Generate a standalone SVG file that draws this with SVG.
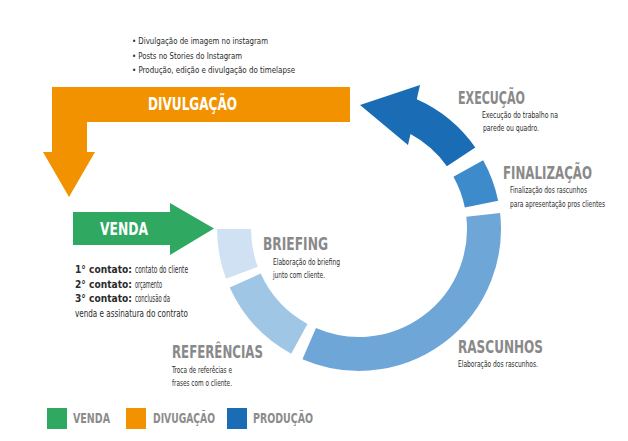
<svg xmlns="http://www.w3.org/2000/svg" width="628" height="441" viewBox="0 0 628 441">
<style>
text{font-family:"Liberation Sans Narrow","DejaVu Sans Condensed","Liberation Sans",sans-serif;}
.ttl{font-size:18px;font-weight:bold;fill:#898989;}
.wt{font-size:18px;font-weight:bold;fill:#ffffff;}
.sm{font-size:9.5px;fill:#2b2b2b;}
.ct{font-size:10.5px;fill:#2b2b2b;}
.b{font-weight:bold;}
.lg{font-size:14.5px;font-weight:bold;fill:#8c8c8c;}
.ring{fill:none;stroke-width:34;}
</style>
<rect width="628" height="441" fill="#ffffff"/>

<g id="connectors">
  <path id="arrow-divulgacao" d="M350,87 L350,122 L87,122 L87,152 L95,152 L69,197 L43,152 L52,152 L52,87 Z" fill="#f39200"/>
  <path id="arrow-venda" d="M73,212 L170,212 L170,203 L214,228.5 L170,255 L170,245 L73,245 Z" fill="#2fa862"/>
</g>

<g id="node-divulgacao">
  <text class="wt" x="148" y="110" textLength="89" lengthAdjust="spacingAndGlyphs">DIVULGAÇÃO</text>
  <text class="sm" x="132" y="44" textLength="136" lengthAdjust="spacingAndGlyphs">• Divulgação de imagem no instagram</text>
  <text class="sm" x="132" y="58.5" textLength="110" lengthAdjust="spacingAndGlyphs">• Posts no Stories do Instagram</text>
  <text class="sm" x="132" y="73" textLength="163" lengthAdjust="spacingAndGlyphs">• Produção, edição e divulgação do timelapse</text>
</g>

<g id="node-venda">
  <text class="wt" x="100" y="235" textLength="48" lengthAdjust="spacingAndGlyphs">VENDA</text>
  <text class="ct b" x="75" y="273" textLength="57" lengthAdjust="spacingAndGlyphs">1° contato:</text>
  <text class="ct" x="135" y="273" textLength="53" lengthAdjust="spacingAndGlyphs">contato do cliente</text>
  <text class="ct b" x="75" y="287.5" textLength="57" lengthAdjust="spacingAndGlyphs">2° contato:</text>
  <text class="ct" x="135" y="287.5" textLength="27" lengthAdjust="spacingAndGlyphs">orçamento</text>
  <text class="ct b" x="75" y="302" textLength="57" lengthAdjust="spacingAndGlyphs">3° contato:</text>
  <text class="ct" x="135" y="302" textLength="35" lengthAdjust="spacingAndGlyphs">conclusão da</text>
  <text class="ct" x="75" y="316.5" textLength="113" lengthAdjust="spacingAndGlyphs">venda e assinatura do contrato</text>
</g>

<g id="node-briefing">
  <path class="ring" stroke="#cfe1f2" d="M241.9,272.8 A125,125 0 0 1 234,229"/>
  <text class="ttl" x="263" y="250" textLength="65" lengthAdjust="spacingAndGlyphs">BRIEFING</text>
  <text class="sm" x="273" y="265" textLength="67" lengthAdjust="spacingAndGlyphs">Elaboração do briefing</text>
  <text class="sm" x="273" y="278" textLength="52" lengthAdjust="spacingAndGlyphs">junto com cliente.</text>
</g>

<g id="node-referencias">
  <path class="ring" stroke="#a0c6e6" d="M299.35,338.85 A125,125 0 0 1 245.2,280.6"/>
  <text class="ttl" x="172" y="358" textLength="91" lengthAdjust="spacingAndGlyphs">REFERÊNCIAS</text>
  <text class="sm" x="172" y="373" textLength="60" lengthAdjust="spacingAndGlyphs">Troca de referêcias e</text>
  <text class="sm" x="172" y="386" textLength="60" lengthAdjust="spacingAndGlyphs">frases com o cliente.</text>
</g>

<g id="node-rascunhos">
  <path class="ring" stroke="#6ea7d7" d="M483.2,214.85 A125,125 0 0 1 309.2,343.6"/>
  <text class="ttl" x="458" y="353" textLength="85" lengthAdjust="spacingAndGlyphs">RASCUNHOS</text>
  <text class="sm" x="458" y="367" textLength="80" lengthAdjust="spacingAndGlyphs">Elaboração dos rascunhos.</text>
</g>

<g id="node-finalizacao">
  <path class="ring" stroke="#3d8bca" d="M468.3,168.4 A125,125 0 0 1 481.5,204.1"/>
  <text class="ttl" x="503" y="178.5" textLength="89" lengthAdjust="spacingAndGlyphs">FINALIZAÇÃO</text>
  <text class="sm" x="510" y="193" textLength="77" lengthAdjust="spacingAndGlyphs">Finalização dos rascunhos</text>
  <text class="sm" x="510" y="207" textLength="95" lengthAdjust="spacingAndGlyphs">para apresentação pros clientes</text>
</g>

<g id="node-execucao">
  <path d="M475.3,147.5 A142,142 0 0 0 416.8,99.3 L420,85 L360,105 L408,145 L410.5,134.1 A108,108 0 0 1 446.9,166.3 Z" fill="#1a6db5"/>
  <text class="ttl" x="458" y="104" textLength="67" lengthAdjust="spacingAndGlyphs">EXECUÇÃO</text>
  <text class="sm" x="482" y="118" textLength="76" lengthAdjust="spacingAndGlyphs">Execução  do trabalho na</text>
  <text class="sm" x="483" y="131" textLength="56" lengthAdjust="spacingAndGlyphs">parede ou quadro.</text>
</g>

<g id="legend">
  <rect x="47" y="408" width="20" height="21" fill="#2fa862"/>
  <text class="lg" x="73" y="423" textLength="37" lengthAdjust="spacingAndGlyphs">VENDA</text>
  <rect x="126" y="408" width="20" height="21" fill="#f39200"/>
  <text class="lg" x="153" y="423" textLength="62" lengthAdjust="spacingAndGlyphs">DIVUGAÇÃO</text>
  <rect x="227" y="408" width="20" height="21" fill="#1a6db5"/>
  <text class="lg" x="253" y="423" textLength="60" lengthAdjust="spacingAndGlyphs">PRODUÇÃO</text>
</g>
</svg>
